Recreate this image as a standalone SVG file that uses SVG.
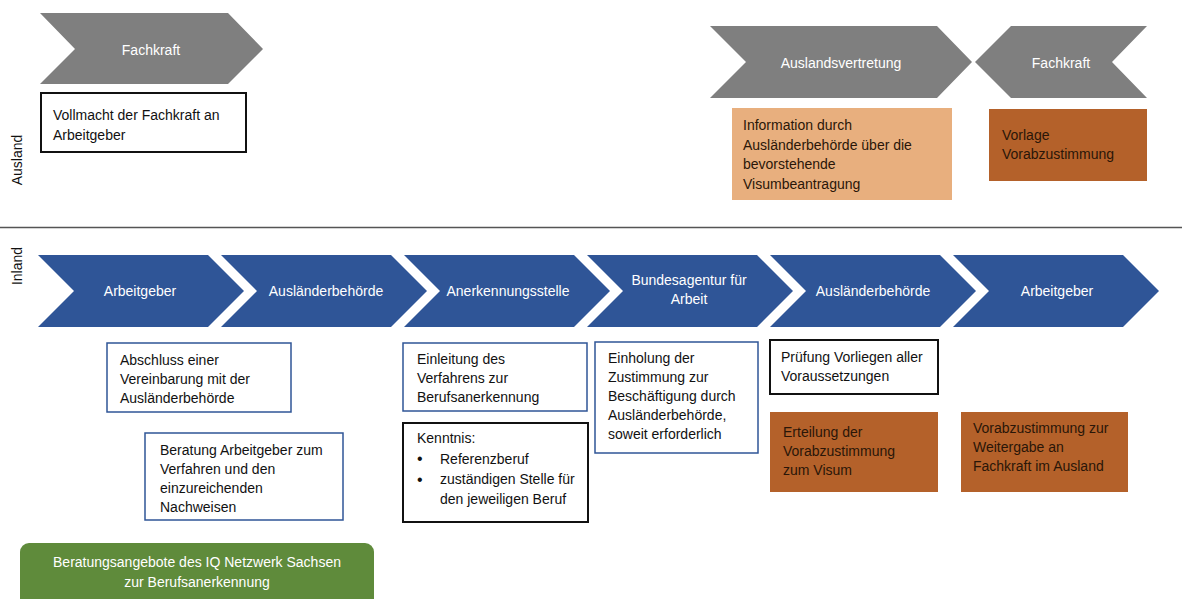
<svg xmlns="http://www.w3.org/2000/svg" width="1182" height="599" viewBox="0 0 1182 599">
  <style>
    text { font-family: "Liberation Sans", Arial, sans-serif; font-size: 14px; }
    .lane { font-size: 14px; fill: #111111; }
    .head { fill: #ffffff; text-anchor: middle; }
    .body { fill: #111111; }
    .bullet { fill: #111111; font-size: 16px; }
    .dark { fill: #2a1608; }
    .grey { fill: #7f7f7f; }
    .blue { fill: #2f5597; }
    .box-blue { fill: #ffffff; stroke: #2f5597; stroke-width: 1.5; }
    .box-black { fill: #ffffff; stroke: #111111; stroke-width: 2; }
    .box-peach { fill: #e8af7e; }
    .box-rust { fill: #b4612a; }
    .box-green { fill: #5f8b3b; }
  </style>

  <rect width="1182" height="599" fill="#ffffff"/>

  <!-- lane labels and divider -->
  <g id="lanes">
    <text class="lane" transform="translate(22,160) rotate(-90)" text-anchor="middle">Ausland</text>
    <text class="lane" transform="translate(22,266) rotate(-90)" text-anchor="middle">Inland</text>
    <line x1="0" y1="227.5" x2="1182" y2="227.5" stroke="#555555" stroke-width="1.5"/>
  </g>

  <!-- Ausland: grey process chevrons -->
  <g id="ausland-fachkraft">
    <polygon class="grey" points="40,13 228,13 263,49 228,84 40,84 75,49"/>
    <text class="head" x="151" y="55">Fachkraft</text>
  </g>
  <g id="ausland-auslandsvertretung">
    <polygon class="grey" points="710,26 937,26 972,62 937,98 710,98 746,62"/>
    <text class="head" x="841" y="68">Auslandsvertretung</text>
  </g>
  <g id="ausland-fachkraft-2">
    <polygon class="grey" points="975,62 1011,26 1147,26 1112,62 1147,98 1011,98"/>
    <text class="head" x="1061" y="68">Fachkraft</text>
  </g>

  <!-- Ausland: task boxes -->
  <g id="vollmacht">
    <rect class="box-black" x="41" y="93" width="205" height="59"/>
    <text class="body" x="53" y="120">Vollmacht der Fachkraft an</text>
    <text class="body" x="53" y="140">Arbeitgeber</text>
  </g>
  <g id="information">
    <rect class="box-peach" x="732" y="108" width="220" height="92"/>
    <text class="dark" x="743" y="130">Information durch</text>
    <text class="dark" x="743" y="149.5">Ausländerbehörde über die</text>
    <text class="dark" x="743" y="169">bevorstehende</text>
    <text class="dark" x="743" y="188.5">Visumbeantragung</text>
  </g>
  <g id="vorlage">
    <rect class="box-rust" x="989" y="109" width="158" height="72"/>
    <text class="dark" x="1002" y="140">Vorlage</text>
    <text class="dark" x="1002" y="159">Vorabzustimmung</text>
  </g>

  <!-- Inland: blue process chevrons -->
  <g id="inland-arbeitgeber">
    <polygon class="blue" points="38,255 208,255 244,291 208,327 38,327 74,291"/>
    <text class="head" x="140" y="296">Arbeitgeber</text>
  </g>
  <g id="inland-auslaenderbehoerde">
    <polygon class="blue" points="221,255 391,255 427,291 391,327 221,327 257,291"/>
    <text class="head" x="326" y="296">Ausländerbehörde</text>
  </g>
  <g id="inland-anerkennungsstelle">
    <polygon class="blue" points="404,255 574,255 610,291 574,327 404,327 440,291"/>
    <text class="head" x="508" y="296">Anerkennungsstelle</text>
  </g>
  <g id="inland-bundesagentur">
    <polygon class="blue" points="587,255 757,255 793,291 757,327 587,327 623,291"/>
    <text class="head" x="689" y="285">Bundesagentur für</text>
    <text class="head" x="689" y="304">Arbeit</text>
  </g>
  <g id="inland-auslaenderbehoerde-2">
    <polygon class="blue" points="770,255 940,255 976,291 940,327 770,327 806,291"/>
    <text class="head" x="873" y="296">Ausländerbehörde</text>
  </g>
  <g id="inland-arbeitgeber-2">
    <polygon class="blue" points="953,255 1123,255 1159,291 1123,327 953,327 989,291"/>
    <text class="head" x="1057" y="296">Arbeitgeber</text>
  </g>

  <!-- Inland: task boxes -->
  <g id="abschluss">
    <rect class="box-blue" x="107" y="343" width="184" height="69"/>
    <text class="body" x="120" y="365">Abschluss einer</text>
    <text class="body" x="120" y="384">Vereinbarung mit der</text>
    <text class="body" x="120" y="403">Ausländerbehörde</text>
  </g>
  <g id="beratung">
    <rect class="box-blue" x="145" y="433" width="198" height="87"/>
    <text class="body" x="160" y="455">Beratung Arbeitgeber zum</text>
    <text class="body" x="160" y="474">Verfahren und den</text>
    <text class="body" x="160" y="493">einzureichenden</text>
    <text class="body" x="160" y="512">Nachweisen</text>
  </g>
  <g id="iq-netzwerk">
    <rect class="box-green" x="20" y="543" width="354" height="70" rx="9"/>
    <text class="head" x="197" y="567">Beratungsangebote des IQ Netzwerk Sachsen</text>
    <text class="head" x="197" y="587">zur Berufsanerkennung</text>
  </g>
  <g id="einleitung">
    <rect class="box-blue" x="403" y="343" width="184" height="68"/>
    <text class="body" x="417" y="364">Einleitung des</text>
    <text class="body" x="417" y="383">Verfahrens zur</text>
    <text class="body" x="417" y="402">Berufsanerkennung</text>
  </g>
  <g id="kenntnis">
    <rect class="box-black" x="403" y="423" width="185" height="99"/>
    <text class="body" x="417" y="443">Kenntnis:</text>
    <text class="bullet" x="417" y="464">•</text>
    <text class="body" x="440" y="463.5">Referenzberuf</text>
    <text class="bullet" x="417" y="484.5">•</text>
    <text class="body" x="440" y="484">zuständigen Stelle für</text>
    <text class="body" x="440" y="504">den jeweiligen Beruf</text>
  </g>
  <g id="einholung">
    <rect class="box-blue" x="595" y="342" width="163" height="111"/>
    <text class="body" x="608" y="363">Einholung der</text>
    <text class="body" x="608" y="382">Zustimmung zur</text>
    <text class="body" x="608" y="401">Beschäftigung durch</text>
    <text class="body" x="608" y="420">Ausländerbehörde,</text>
    <text class="body" x="608" y="439">soweit erforderlich</text>
  </g>
  <g id="pruefung">
    <rect class="box-black" x="770" y="340" width="168" height="54"/>
    <text class="body" x="781" y="362">Prüfung Vorliegen aller</text>
    <text class="body" x="781" y="381">Voraussetzungen</text>
  </g>
  <g id="erteilung">
    <rect class="box-rust" x="770" y="412" width="168" height="80"/>
    <text class="dark" x="783" y="437">Erteilung der</text>
    <text class="dark" x="783" y="456">Vorabzustimmung</text>
    <text class="dark" x="783" y="475">zum Visum</text>
  </g>
  <g id="weitergabe">
    <rect class="box-rust" x="961" y="412" width="167" height="80"/>
    <text class="dark" x="973" y="433">Vorabzustimmung zur</text>
    <text class="dark" x="973" y="452">Weitergabe an</text>
    <text class="dark" x="973" y="471">Fachkraft im Ausland</text>
  </g>
</svg>
